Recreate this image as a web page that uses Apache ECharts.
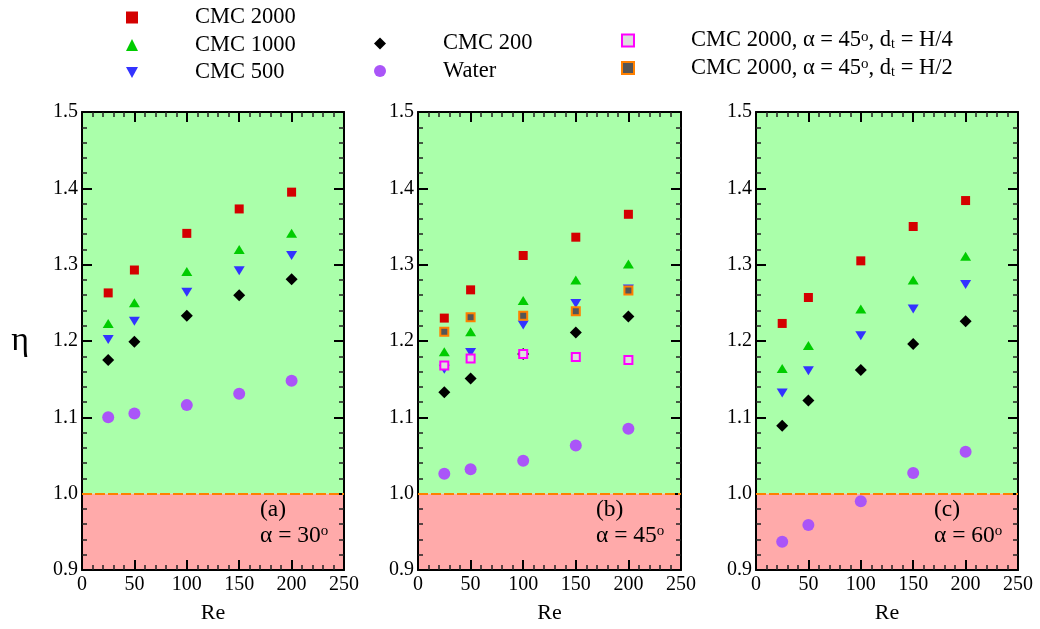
<!DOCTYPE html>
<html>
<head>
<meta charset="utf-8">
<script src="https://cdn.jsdelivr.net/npm/echarts@6/dist/echarts.min.js"></script>
<style>
  html, body { margin: 0; padding: 0; background: #fff; }
  #chart { width: 1040px; height: 629px; }
</style>
</head>
<body>
<div id="chart"></div>
<script>
// Reynolds numbers (x values)
const re = [25, 50, 100, 150, 200];
const xTicks = [0, 50, 100, 150, 200, 250];
const yTicks = [0.9, 1.0, 1.1, 1.2, 1.3, 1.4, 1.5];

// (a) alpha = 30
const cmc2000_30 = [1.263, 1.293, 1.341, 1.373, 1.395];
const cmc1000_30 = [1.223, 1.250, 1.291, 1.320, 1.341];
const cmc500_30 = [1.202, 1.226, 1.264, 1.292, 1.312];
const cmc200_30 = [1.175, 1.199, 1.233, 1.260, 1.281];
const water_30 = [1.100, 1.105, 1.116, 1.131, 1.148];

// (b) alpha = 45
const cmc2000_45 = [1.230, 1.267, 1.312, 1.336, 1.366];
const cmc1000_45 = [1.186, 1.212, 1.253, 1.280, 1.301];
const cmc500_45 = [1.163, 1.185, 1.221, 1.249, 1.268];
const cmc200_45 = [1.133, 1.151, 1.183, 1.211, 1.232];
const water_45 = [1.026, 1.032, 1.043, 1.063, 1.085];
const cmc2000_45_h4 = [1.168, 1.177, 1.183, 1.179, 1.175];
const cmc2000_45_h2 = [1.212, 1.231, 1.233, 1.239, 1.266];

// (c) alpha = 60
const cmc2000_60 = [1.223, 1.257, 1.305, 1.350, 1.384];
const cmc1000_60 = [1.164, 1.194, 1.242, 1.280, 1.311];
const cmc500_60 = [1.132, 1.161, 1.207, 1.242, 1.274];
const cmc200_60 = [1.089, 1.122, 1.162, 1.196, 1.226];
const water_60 = [0.937, 0.959, 0.990, 1.027, 1.055];

const FONT = '"Liberation Serif", "Times New Roman", serif';
const H4 = 'CMC 2000, α = 45°, dt = H/4';
const H2 = 'CMC 2000, α = 45°, dt = H/2';

const marker = {
    'CMC 2000': {symbol: 'rect', symbolSize: 9, itemStyle: {color: '#d40000', opacity: 1}},
    'CMC 1000': {symbol: 'triangle', symbolSize: [11, 9], itemStyle: {color: '#00cc00', opacity: 1}},
    'CMC 500': {symbol: 'path://M0,0L10,0L5,9Z', symbolSize: [11, 9], itemStyle: {color: '#3333ff', opacity: 1}},
    'CMC 200': {symbol: 'diamond', symbolSize: 12, itemStyle: {color: '#000000', opacity: 1}},
    'Water': {symbol: 'circle', symbolSize: 12, itemStyle: {color: '#aa55f8', opacity: 1}},
    [H4]: {symbol: 'rect', symbolSize: 8, itemStyle: {color: '#dddddd', borderColor: '#ff00ff', borderWidth: 2, opacity: 1}},
    [H2]: {symbol: 'rect', symbolSize: 8, itemStyle: {color: '#555555', borderColor: '#ff8000', borderWidth: 2, opacity: 1}}
};

const panels = [
    {tag: '(a)', angle: '30', sets: [['CMC 2000', cmc2000_30], ['CMC 1000', cmc1000_30], ['CMC 500', cmc500_30], ['CMC 200', cmc200_30], ['Water', water_30]]},
    {tag: '(b)', angle: '45', sets: [['CMC 2000', cmc2000_45], ['CMC 1000', cmc1000_45], ['CMC 500', cmc500_45], ['CMC 200', cmc200_45], ['Water', water_45], [H4, cmc2000_45_h4], [H2, cmc2000_45_h2]]},
    {tag: '(c)', angle: '60', sets: [['CMC 2000', cmc2000_60], ['CMC 1000', cmc1000_60], ['CMC 500', cmc500_60], ['CMC 200', cmc200_60], ['Water', water_60]]}
];

const gridBoxes = [
    {left: 82, top: 112, width: 262, height: 458, outerBoundsMode: 'none'},
    {left: 418, top: 112, width: 263, height: 458, outerBoundsMode: 'none'},
    {left: 756, top: 112, width: 262, height: 458, outerBoundsMode: 'none'}
];

const richText = {
    sup: {fontFamily: FONT, fontSize: 15, verticalAlign: 'top', lineHeight: 10, color: '#000'},
    sub: {fontFamily: FONT, fontSize: 14, verticalAlign: 'bottom', lineHeight: 8, color: '#000'}
};

const axisLine = {show: true, onZero: false, lineStyle: {color: '#000', width: 2}};
const tick = {show: true, inside: true, length: 10, lineStyle: {color: '#000', width: 2}};
const minor = {show: true, splitNumber: 5, length: 5, lineStyle: {color: '#222', width: 1.5}};

const xAxes = [], yAxes = [], series = [], graphics = [];

gridBoxes.forEach((g, i) => {
    const xBase = {
        gridIndex: i, type: 'value', min: xTicks[0], max: xTicks[xTicks.length - 1], interval: 50, z: 3,
        axisLine, axisTick: tick, minorTick: minor, splitLine: {show: false}
    };
    xAxes.push(Object.assign({}, xBase, {
        position: 'bottom',
        axisLabel: {fontFamily: FONT, fontSize: 20, color: '#000', margin: 5},
        name: 'Re', nameLocation: 'middle', nameGap: 32, nameMoveOverlap: false,
        nameTextStyle: {fontFamily: FONT, fontSize: 22, color: '#000'}
    }));
    xAxes.push(Object.assign({}, xBase, {position: 'top', axisLabel: {show: false}}));

    const yBase = {
        gridIndex: i, type: 'value', min: yTicks[0], max: yTicks[yTicks.length - 1], interval: 0.1, z: 3,
        axisLine, axisTick: tick, minorTick: minor, splitLine: {show: false}
    };
    yAxes.push(Object.assign({}, yBase, {
        position: 'left',
        axisLabel: {fontFamily: FONT, fontSize: 20, color: '#000', margin: 4, formatter: v => v.toFixed(1)},
        name: i === 0 ? 'η' : '', nameLocation: 'middle', nameRotate: 0, nameGap: 53, nameMoveOverlap: false,
        nameTextStyle: {fontFamily: FONT, fontSize: 34, color: '#000'}
    }));
    yAxes.push(Object.assign({}, yBase, {position: 'right', axisLabel: {show: false}}));

    // background regions and the eta = 1 line
    series.push({
        type: 'line', xAxisIndex: 2 * i, yAxisIndex: 2 * i, data: [], silent: true, z: 1,
        markArea: {
            silent: true,
            data: [
                [{yAxis: 1.0, itemStyle: {color: '#aaffaa'}}, {yAxis: 1.5}],
                [{yAxis: 0.9, itemStyle: {color: '#ffaaaa'}}, {yAxis: 1.0}]
            ]
        },
        markLine: {
            silent: true, symbol: 'none', label: {show: false},
            lineStyle: {color: '#ff8000', width: 2, type: [10, 3]},
            data: [{yAxis: 1.0}]
        }
    });

    panels[i].sets.forEach(([name, vals]) => {
        series.push(Object.assign({
            name, type: 'scatter', xAxisIndex: 2 * i, yAxisIndex: 2 * i, z: 5,
            data: re.map((r, k) => [r, vals[k]])
        }, marker[name]));
    });

    graphics.push({
        type: 'text', left: g.left + 178, top: 498, z: 100,
        style: {text: panels[i].tag, fontFamily: FONT, fontSize: 23.5, fill: '#000'}
    });
    graphics.push({
        type: 'text', left: g.left + 178, top: 524, z: 100,
        style: {text: 'α = ' + panels[i].angle + '{sup|o}', fontFamily: FONT, fontSize: 23.5, fill: '#000', rich: richText}
    });
});

const legendRich = {
    [H4]: 'CMC 2000, α = 45{sup|o}, d{sub|t} = H/4',
    [H2]: 'CMC 2000, α = 45{sup|o}, d{sub|t} = H/2'
};

const legendBase = {
    orient: 'vertical', itemWidth: 12, itemHeight: 12, itemGap: 4.5, selectedMode: false,
    formatter: name => legendRich[name] || name,
    textStyle: {fontFamily: FONT, fontSize: 22.5, color: '#000', lineHeight: 22, padding: [0, 0, 0, 52], rich: richText}
};

const chart = echarts.init(document.getElementById('chart'));
chart.setOption({
    animation: false,
    backgroundColor: '#ffffff',
    grid: gridBoxes,
    xAxis: xAxes,
    yAxis: yAxes,
    legend: [
        Object.assign({}, legendBase, {left: 121, top: 1, data: ['CMC 2000', 'CMC 1000', 'CMC 500']}),
        Object.assign({}, legendBase, {left: 369, top: 27, data: ['CMC 200', 'Water']}),
        Object.assign({}, legendBase, {left: 616, top: 24, data: [H4, H2]})
    ],
    graphic: graphics,
    series: series
});
</script>
</body>
</html>
